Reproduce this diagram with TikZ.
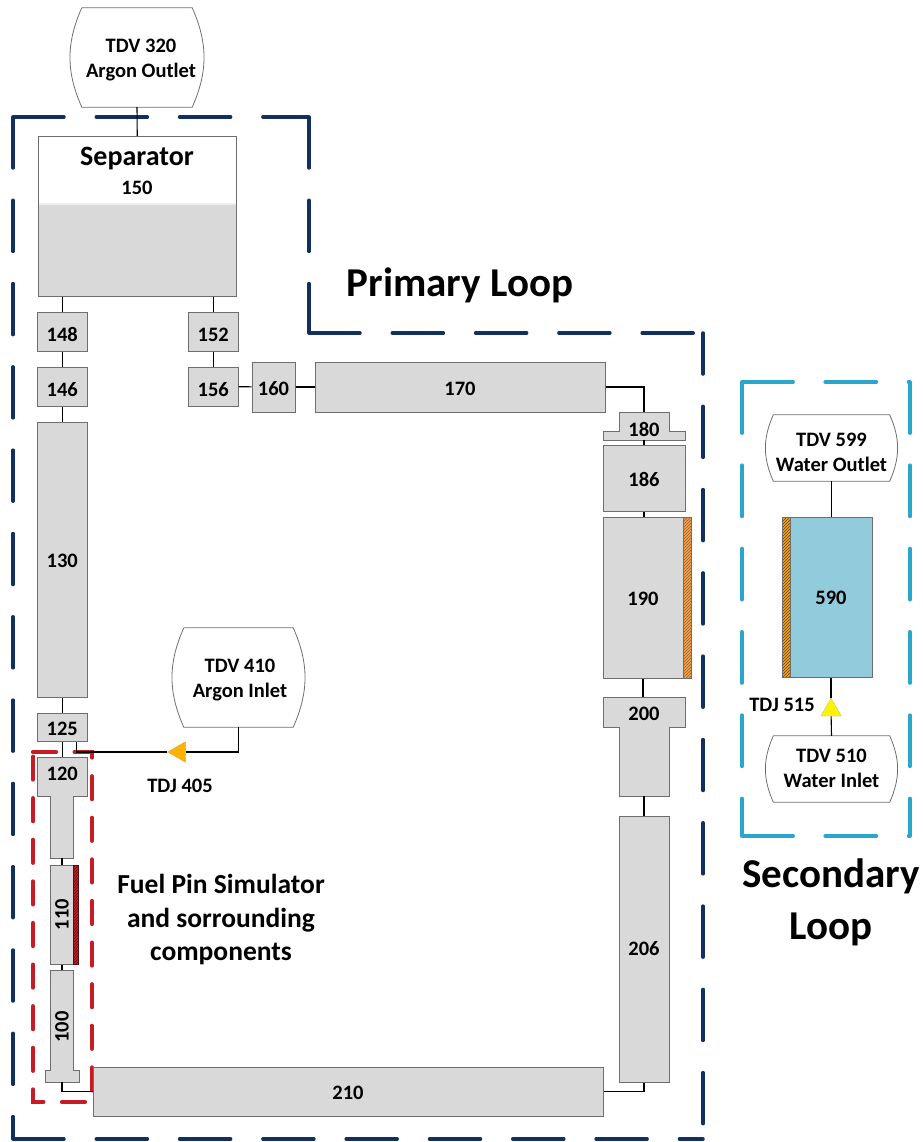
\documentclass[tikz,border=0pt]{standalone}
\usepackage{fontspec}
\setmainfont{Carlito}
\usetikzlibrary{arrows.meta,positioning,calc,shapes.geometric,patterns}
\definecolor{loopnavy}{HTML}{12305F}
\definecolor{loopred}{HTML}{C61C25}
\definecolor{loopcyan}{HTML}{2AA5CB}
\definecolor{compgrey}{HTML}{D9D9D9}
\definecolor{compedge}{HTML}{6E6E6E}
\definecolor{waterblue}{HTML}{92CBDB}
\tikzset{
  comp/.style       = {draw=compedge, line width=1pt, fill=compgrey, inner sep=0pt, text height=16.2pt, text depth=0pt, font=\fontsize{20.5}{25}\selectfont\bfseries},
  small/.style      = {comp, minimum width=49.5pt, minimum height=39pt, text height=19pt},
  ghost/.style      = {inner sep=0pt},
  outline/.style    = {draw=compedge, line width=1pt, fill=compgrey},
  lbl/.style        = {inner sep=0pt, align=center, font=\fontsize{20.5}{25}\selectfont\bfseries},
  note/.style       = {inner sep=0pt, align=center, font=\fontsize{27.5}{33.5}\selectfont\bfseries},
  title/.style      = {inner sep=0pt, align=center, font=\fontsize{41}{52}\selectfont\bfseries},
  pipe/.style       = {draw=black, line width=1.1pt},
  primary/.style    = {draw=loopnavy, line width=3.5pt, line cap=round, dash pattern=on 51pt off 32.3pt},
  secondary/.style  = {draw=loopcyan, line width=3.8pt, line cap=round, dash pattern=on 51pt off 32.3pt},
  simulator/.style  = {draw=loopred, line width=4.2pt, line cap=round, dash pattern=on 23pt off 18.6pt},
  tdv/.style        = {inner sep=0pt,
                       append after command={\pgfextra{\draw[draw=compedge, line width=0.8pt]
                         ([xshift=#1]\tikzlastnode.north west) -- ([xshift=-#1]\tikzlastnode.north east)
                         to[bend left=24] ([xshift=-#1]\tikzlastnode.south east)
                         -- ([xshift=#1]\tikzlastnode.south west)
                         to[bend left=24] ([xshift=#1]\tikzlastnode.north west);}}},
  tdj/.style        = {regular polygon, regular polygon sides=3, minimum size=24pt, inner sep=0pt, draw=compedge!70, line width=0.5pt, densely dotted},
  wall/.style       = {line width=0.8pt, inner sep=0pt, pattern=north east lines},
}

\begin{document}
\begin{tikzpicture}[x=1pt,y=-1pt]
  \useasboundingbox (0,0) rectangle (922,1142);
  % loop boundaries
  \draw[primary] (13,117) -- (309,117) (309,117) -- (309,333) (309,333) -- (697,333)
    (13,117) -- (13,1139) (13,1139) -- (703,1139);
  \draw[primary, dash phase=10pt] (703,333) -- (703,1139);
  \draw[secondary] (742,382) -- (910,382) (742,382) -- (742,836) (742,836) -- (910,836) (910,382) -- (910,836);
  \draw[simulator] (33,752) -- (92,752) -- (92,1102) -- (33,1102) -- cycle;
  % separator and the left leg
  \fill[compgrey] (38.5,205) rectangle (236,296);
  \fill[compgrey!45] (38.5,203) rectangle (236,205);
  \node[draw=compedge, line width=1pt, inner sep=0pt, minimum width=197.5pt, minimum height=159.5pt] (sep) at (137.25,216.25) {};
  \node[lbl, font=\fontsize{28}{30}\selectfont\bfseries] (sepname) at (137,159) {Separator};
  \node[lbl] (sepnum) at (137,188) {150};
  \node[tdv=11pt, minimum width=132pt, minimum height=99pt] (tdv320) at (137,57.5) {};
  \node[lbl] (tdv320name) at (141,60.5) {TDV 320\\Argon Outlet};
  \node[small] (n148) at (62.25,331.5) {148};
  \node[small] (n146) at (62.25,386.5) {146};
  \node[comp, minimum width=49.5pt, minimum height=275pt] (n130) at (62.25,559.5) {130};
  \node[comp, minimum width=49.5pt, minimum height=28pt] (n125) at (62.25,727) {125};
  % fuel pin simulator
  \draw[outline] (37.5,757) -- (87,757) -- (87,796) -- (73.5,796) -- (73.5,858) -- (50.5,858) -- (50.5,796) -- (37.5,796) -- cycle;
  \node[ghost, minimum width=49.5pt, minimum height=39pt] (n120) at (62.25,776.5) {};
  \node[ghost, minimum width=23pt, minimum height=62pt] (n120neck) at (62,827) {};
  \node[lbl] (n120num) at (62.25,774) {120};
  \node[draw=compedge, line width=1pt, fill=compgrey, inner sep=0pt, minimum width=23pt, minimum height=99pt] (n110) at (62,914.5) {};
  \node[lbl, rotate=90] (n110num) at (62,914.5) {110};
  \node[wall, draw=loopred!45!black, preaction={fill=loopred}, pattern color=loopred!45!black, minimum width=4.5pt, minimum height=99pt] (w110) at (75.75,914.5) {};
  \draw[outline] (50.5,970) -- (73.5,970) -- (73.5,1070) -- (79,1070) -- (79,1082) -- (45.5,1082) -- (45.5,1070) -- (50.5,1070) -- cycle;
  \node[ghost, minimum width=23pt, minimum height=100pt] (n100) at (62,1020) {};
  \node[lbl, rotate=90] (n100num) at (62,1027) {100};
  \node[ghost, minimum width=33.5pt, minimum height=12pt] (n100foot) at (62,1076) {};
  \node[comp, minimum width=510pt, minimum height=49pt] (n210) at (348,1091.5) {210};
  % upper run
  \node[small] (n152) at (213.25,331.5) {152};
  \node[small] (n156) at (213.25,386.5) {156};
  \node[comp, minimum width=43pt, minimum height=50pt] (n160) at (273.5,387) {160};
  \node[comp, minimum width=290pt, minimum height=50pt] (n170) at (460,387) {170};
  % right leg
  \draw[outline] (619,412) -- (669,412) -- (669,431) -- (685,431) -- (685,440) -- (603,440) -- (603,431) -- (619,431) -- cycle;
  \node[ghost, minimum width=50pt, minimum height=28pt] (n180) at (644,426) {};
  \node[lbl] (n180num) at (644,429) {180};
  \node[comp, minimum width=82pt, minimum height=66pt] (n186) at (644,478) {186};
  \node[comp, minimum width=80pt, minimum height=160.5pt] (n190) at (643,597.75) {190};
  \node[wall, draw=compedge, preaction={fill=orange!65!compgrey}, pattern color=brown!80!black, minimum width=8pt, minimum height=160.5pt] (w190) at (687,597.75) {};
  \draw[outline] (603,697) -- (685,697) -- (685,727) -- (669,727) -- (669,796) -- (619,796) -- (619,727) -- (603,727) -- cycle;
  \node[ghost, minimum width=82pt, minimum height=30pt] (n200) at (644,712) {};
  \node[ghost, minimum width=50pt, minimum height=69pt] (n200neck) at (644,761.5) {};
  \node[lbl] (n200num) at (644,714) {200};
  \node[comp, text height=13pt, minimum width=50pt, minimum height=266pt] (n206) at (644,949) {206};
  % argon inlet
  \node[tdv=11pt, minimum width=131pt, minimum height=99pt] (tdv410) at (238.5,677.5) {};
  \node[lbl] (tdv410name) at (240,680.5) {TDV 410\\Argon Inlet};
  \node[tdj, shape border rotate=90, fill=orange!60!yellow] (tdj405) at (179.5,752) {};
  \node[lbl] (tdj405name) at (180,786) {TDJ 405};
  % secondary loop
  \node[tdv=7.5pt, minimum width=131pt, minimum height=66pt] (tdv599) at (831.5,448) {};
  \node[lbl] (tdv599name) at (831.5,452) {TDV 599\\Water Outlet};
  \node[comp, fill=waterblue, minimum width=90pt, minimum height=160pt] (n590) at (827,597.5) {};
  \node[lbl] (n590num) at (831,597.5) {590};
  \node[wall, draw=compedge, preaction={fill=orange!75!yellow}, pattern color=black!70, minimum width=8pt, minimum height=160pt] (w590) at (786,597.5) {};
  \node[tdj, fill=yellow] (tdj515) at (831,710) {};
  \node[lbl] (tdj515name) at (782,705) {TDJ 515};
  \node[tdv=7.5pt, minimum width=131pt, minimum height=66pt] (tdv510) at (831.5,769) {};
  \node[lbl] (tdv510name) at (831.5,768) {TDV 510\\Water Inlet};
  % connectors
  \draw[pipe] (tdv320.south) -- (sep.north);
  \draw[pipe] (n148.north |- sep.south) -- (n148.north);
  \draw[pipe] (n152.north |- sep.south) -- (n152.north);
  \draw[pipe] (n148) -- (n146);
  \draw[pipe] (n146) -- (n130);
  \draw[pipe] (n130) -- (n125);
  \draw[pipe] (n125) -- (n120);
  \draw[pipe] (n120neck) -- (n110);
  \draw[pipe] (n110) -- (n100);
  \draw[pipe] (n100foot.south) |- (n210.west);
  \draw[pipe] (n152) -- (n156);
  \draw[pipe] (n156) -- (n160);
  \draw[pipe] (n160) -- (n170);
  \draw[pipe] (n170.east) -| (n180.north);
  \draw[pipe] (n180.south) -- (n186.north);
  \draw[pipe] (n186.south) -- (n186.south |- n190.north);
  \draw[pipe] (n190.south) -- (n190.south |- n200.north);
  \draw[pipe] (n200neck.south) -- (n206.north);
  \draw[pipe] (n206.south) |- (n210.east);
  \draw[pipe] (tdv410.south) |- (tdj405);
  \draw[pipe] (tdj405) -| ([xshift=14pt]n125.south);
  \draw[pipe] (tdv599.south) -- (tdv599.south |- n590.north);
  \draw[pipe] (tdv510.north) -- (tdj515);
  \draw[pipe] (tdj515) -- (tdj515 |- n590.south);
  % captions
  \node[title] (primarylbl) at (460,285) {Primary Loop};
  \node[title] (secondarylbl) at (831,902) {Secondary\\Loop};
  \node[note] (simlbl) at (221,920) {Fuel Pin Simulator\\and sorrounding\\components};
\end{tikzpicture}
\end{document}
